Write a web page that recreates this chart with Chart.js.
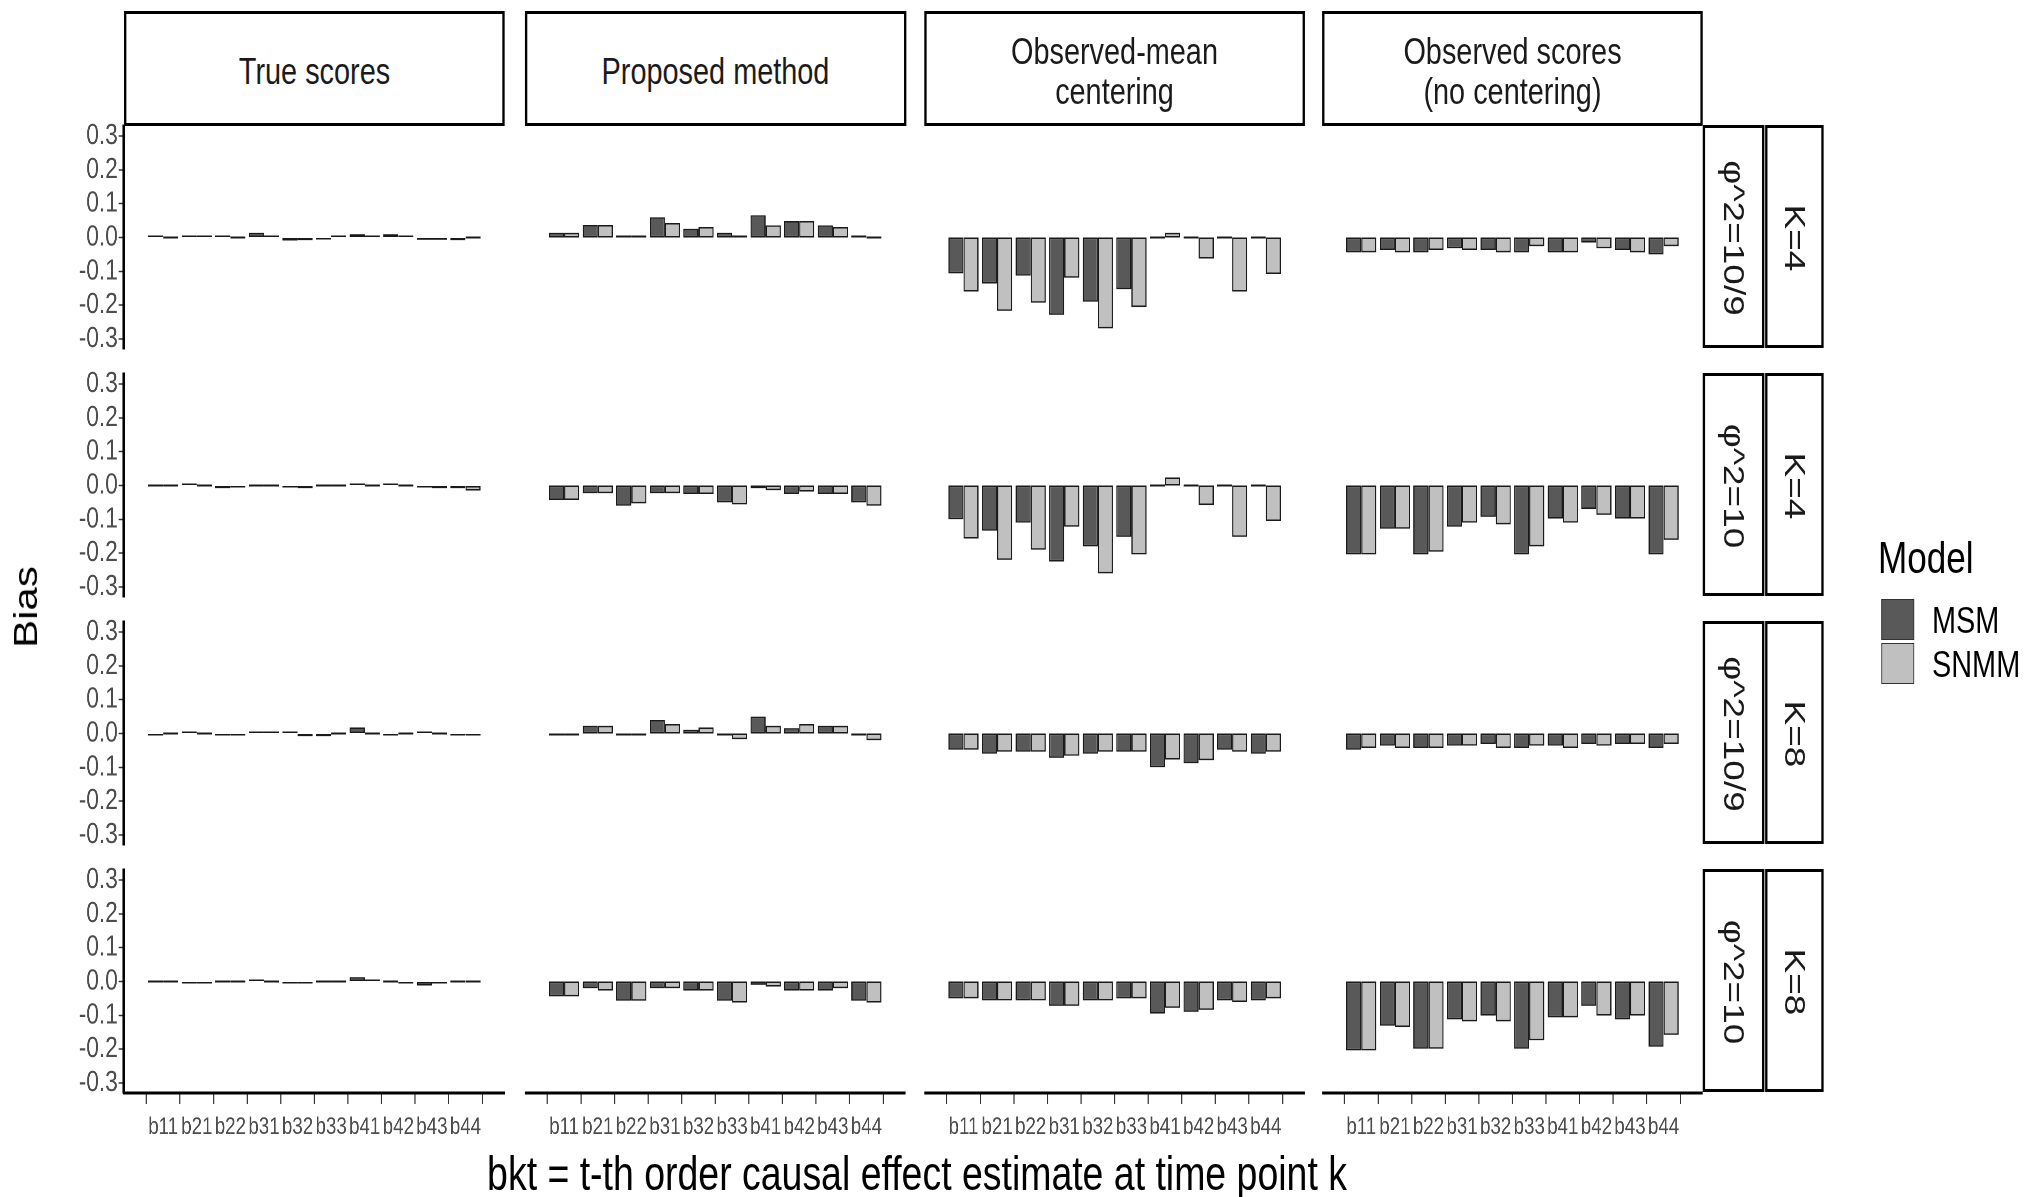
<!DOCTYPE html>
<html><head><meta charset="utf-8">
<script src="https://cdn.jsdelivr.net/npm/chart.js@4.4.1/dist/chart.umd.min.js"></script>
<style>
html,body{margin:0;padding:0;background:#fff;overflow:hidden;width:2024px;height:1197px;}
#fig{position:absolute;left:0;top:0;width:2595px;height:1197px;transform:scaleX(0.78);transform-origin:0 0;font-family:"Liberation Sans",Arial,sans-serif;}
.box{position:absolute;box-sizing:border-box;border:3px solid #000;background:#fff;}
.txt{position:absolute;white-space:nowrap;line-height:1;color:#1a1a1a;}
.pw{position:absolute;}
.key{position:absolute;box-sizing:border-box;border:1.5px solid #333;}
</style></head><body><div id="fig"></div>
<script>
// ---------------- DATA ----------------
const categories = ["b11","b21","b22","b31","b32","b33","b41","b42","b43","b44"];
const methodLabels = ["True scores","Proposed method","Observed-mean<br>centering","Observed scores<br>(no centering)"];
const phiLabels = ["φ^2=10/9","φ^2=10","φ^2=10/9","φ^2=10"];
const kLabels = ["K=4","K=4","K=8","K=8"];
const seriesNames = ["MSM","SNMM"];
const yTickValues = [-0.3,-0.2,-0.1,0,0.1,0.2,0.3];
const yTickLabels = ["-0.3","-0.2","-0.1","0.0","0.1","0.2","0.3"];
const xTitle = "bkt = t-th order causal effect estimate at time point k";
const yTitle = "Bias";
const legendTitle = "Model";

// Row 1: φ^2=10/9, K=4
const msmR1True = [0.001, 0.005, 0.001, 0.014, -0.009, -0.002, 0.010, 0.010, -0.007, -0.008];
const snmmR1True = [0.000, 0.001, 0.000, 0.005, -0.008, 0.004, 0.001, 0.005, -0.007, 0.000];
const msmR1Prop = [0.014, 0.037, 0.003, 0.060, 0.026, 0.014, 0.066, 0.049, 0.036, 0.005];
const snmmR1Prop = [0.014, 0.037, 0.002, 0.043, 0.031, 0.004, 0.036, 0.049, 0.031, 0.000];
const msmR1Mean = [-0.106, -0.136, -0.113, -0.229, -0.190, -0.153, 0.000, 0.000, 0.000, 0.000];
const snmmR1Mean = [-0.160, -0.217, -0.193, -0.119, -0.269, -0.206, 0.014, -0.062, -0.160, -0.108];
const msmR1Obs = [-0.044, -0.037, -0.044, -0.032, -0.037, -0.044, -0.044, -0.015, -0.037, -0.050];
const snmmR1Obs = [-0.044, -0.044, -0.037, -0.037, -0.044, -0.026, -0.044, -0.032, -0.044, -0.026];
// Row 2: φ^2=10, K=4
const msmR2True = [0.000, 0.006, -0.008, 0.000, -0.002, 0.000, 0.006, 0.006, -0.002, -0.008];
const snmmR2True = [0.000, 0.000, -0.002, 0.000, -0.008, 0.000, 0.000, 0.000, -0.008, -0.015];
const msmR2Prop = [-0.043, -0.023, -0.060, -0.023, -0.025, -0.050, -0.008, -0.025, -0.025, -0.050];
const snmmR2Prop = [-0.043, -0.023, -0.053, -0.023, -0.025, -0.056, -0.014, -0.018, -0.025, -0.060];
const msmR2Mean = [-0.100, -0.134, -0.110, -0.225, -0.180, -0.152, 0.000, 0.000, 0.000, 0.000];
const snmmR2Mean = [-0.157, -0.220, -0.190, -0.122, -0.260, -0.204, 0.024, -0.058, -0.152, -0.105];
const msmR2Obs = [-0.204, -0.128, -0.204, -0.122, -0.093, -0.204, -0.098, -0.070, -0.098, -0.204];
const snmmR2Obs = [-0.204, -0.128, -0.196, -0.110, -0.115, -0.180, -0.110, -0.087, -0.098, -0.161];
// Row 3: φ^2=10/9, K=8
const msmR3True = [-0.006, 0.005, -0.006, 0.004, 0.004, -0.008, 0.018, -0.006, 0.005, -0.006];
const snmmR3True = [0.000, 0.000, -0.006, 0.004, -0.008, 0.000, 0.000, 0.000, 0.000, -0.006];
const msmR3Prop = [-0.001, 0.023, -0.006, 0.040, 0.011, -0.002, 0.050, 0.016, 0.023, -0.002];
const snmmR3Prop = [-0.001, 0.023, -0.006, 0.028, 0.018, -0.017, 0.023, 0.028, 0.023, -0.020];
const msmR3Mean = [-0.048, -0.060, -0.054, -0.072, -0.060, -0.054, -0.100, -0.088, -0.048, -0.060];
const snmmR3Mean = [-0.048, -0.054, -0.054, -0.066, -0.054, -0.054, -0.077, -0.079, -0.054, -0.054];
const msmR3Obs = [-0.048, -0.036, -0.043, -0.036, -0.031, -0.043, -0.036, -0.031, -0.031, -0.043];
const snmmR3Obs = [-0.043, -0.043, -0.043, -0.036, -0.043, -0.036, -0.043, -0.036, -0.031, -0.031];
// Row 4: φ^2=10, K=8
const msmR4True = [0.000, -0.006, 0.000, 0.006, -0.006, 0.000, 0.013, 0.000, -0.012, 0.000];
const snmmR4True = [0.000, -0.006, 0.000, 0.000, -0.006, 0.000, 0.005, -0.006, -0.006, 0.000];
const msmR4Prop = [-0.044, -0.020, -0.057, -0.020, -0.027, -0.057, -0.010, -0.027, -0.027, -0.057];
const snmmR4Prop = [-0.044, -0.027, -0.057, -0.020, -0.027, -0.062, -0.015, -0.027, -0.020, -0.062];
const msmR4Mean = [-0.050, -0.056, -0.056, -0.072, -0.056, -0.050, -0.095, -0.090, -0.056, -0.056];
const snmmR4Mean = [-0.050, -0.056, -0.056, -0.072, -0.056, -0.050, -0.078, -0.084, -0.061, -0.050];
const msmR4Obs = [-0.204, -0.131, -0.199, -0.112, -0.101, -0.199, -0.106, -0.072, -0.112, -0.193];
const snmmR4Obs = [-0.204, -0.135, -0.199, -0.118, -0.118, -0.174, -0.106, -0.101, -0.101, -0.158];

const msmGrid = [
  [msmR1True, msmR1Prop, msmR1Mean, msmR1Obs],
  [msmR2True, msmR2Prop, msmR2Mean, msmR2Obs],
  [msmR3True, msmR3Prop, msmR3Mean, msmR3Obs],
  [msmR4True, msmR4Prop, msmR4Mean, msmR4Obs]];
const snmmGrid = [
  [snmmR1True, snmmR1Prop, snmmR1Mean, snmmR1Obs],
  [snmmR2True, snmmR2Prop, snmmR2Mean, snmmR2Obs],
  [snmmR3True, snmmR3Prop, snmmR3Mean, snmmR3Obs],
  [snmmR4True, snmmR4Prop, snmmR4Mean, snmmR4Obs]];

// ---------------- LAYOUT / STYLE ----------------
const SX = 0.78;
const ux = v => v / SX;
const colLeft = [124, 525, 924, 1322], PW = 381;
const rowTop = [126, 374, 622, 870], PH = 223;
const XAXIS_H = 75;
const PAD = 20;
const FONT = '"Liberation Sans", Arial, sans-serif';
const colors = ['#595959', '#c0c0c0'];
const fig = document.getElementById('fig');

// pick a condensed face for x tick labels if one is installed
const mctx = document.createElement('canvas').getContext('2d');
mctx.font = '26px "Liberation Sans"';
const wReg = mctx.measureText('b11 b21 b22').width;
mctx.font = '26px "Liberation Sans Narrow", "Liberation Sans"';
const wNar = mctx.measureText('b11 b21 b22').width;
const xTickFont = (wNar < wReg * 0.92) ? {family: '"Liberation Sans Narrow", "Liberation Sans"', size: 27}
                                        : {family: FONT, size: 24};

function el(cls, css, html) {
  const d = document.createElement('div');
  d.className = cls;
  Object.assign(d.style, css);
  if (html !== undefined) d.innerHTML = html;
  fig.appendChild(d);
  return d;
}
function centerText(html, cx, cy, size, extra) {
  return el('txt', Object.assign({left: cx + 'px', top: cy + 'px', fontSize: size + 'px',
    transform: 'translate(-50%,-50%)', textAlign: 'center'}, extra || {}), html);
}

// column strips
for (let c = 0; c < 4; c++) {
  el('box', {left: ux(colLeft[c]) + 'px', top: '11px', width: ux(PW) + 'px', height: '115px'});
  centerText(methodLabels[c], ux(colLeft[c] + PW / 2), 72, 37, {lineHeight: '40px'});
}
// row strips
for (let r = 0; r < 4; r++) {
  el('box', {left: ux(1703) + 'px', top: (rowTop[r] - 1) + 'px', width: ux(61) + 'px', height: PH + 'px'});
  el('box', {left: ux(1765) + 'px', top: (rowTop[r] - 1) + 'px', width: ux(59) + 'px', height: PH + 'px'});
  centerText(phiLabels[r], ux(1734), rowTop[r] + PH / 2, 37, {transform: 'translate(-50%,-50%) rotate(90deg)'});
  centerText(kLabels[r], ux(1794.5), rowTop[r] + PH / 2, 37, {transform: 'translate(-50%,-50%) rotate(90deg)'});
}
// axis titles
centerText(xTitle, ux(917), 1174, 48, {color: '#000'});
centerText(yTitle, ux(26), 607, 42, {color: '#000', transform: 'translate(-50%,-50%) rotate(-90deg)'});
// legend
el('txt', {left: ux(1878) + 'px', top: '557px', fontSize: '45px', transform: 'translateY(-50%)', color: '#000'}, legendTitle);
const keyTops = [599, 643];
for (let s = 0; s < 2; s++) {
  el('key', {left: ux(1881) + 'px', top: keyTops[s] + 'px', width: ux(33) + 'px', height: '41px', background: colors[s]});
  el('txt', {left: ux(1932) + 'px', top: (keyTops[s] + 21) + 'px', fontSize: '37px', transform: 'translateY(-50%)', color: '#000'}, seriesNames[s]);
}

// panels
for (let r = 0; r < 4; r++) {
  for (let c = 0; c < 4; c++) {
    const isLeft = c === 0, isBottom = r === 3;
    const left = isLeft ? 0 : ux(colLeft[c]);
    const width = isLeft ? ux(colLeft[0] + PW) : ux(PW);
    const padBottom = isBottom ? 0 : PAD;
    const height = PAD + PH + padBottom + (isBottom ? XAXIS_H : 0);
    const wrap = el('pw', {left: left + 'px', top: (rowTop[r] - PAD) + 'px', width: width + 'px', height: height + 'px'});
    const cv = document.createElement('canvas');
    cv.width = Math.round(width); cv.height = height;
    wrap.appendChild(cv);
    const mk = (vals, s) => ({
      label: seriesNames[s],
      data: vals.map((v, i) => ({x: i + 1, y: v})),
      backgroundColor: colors[s],
      borderColor: '#1a1a1a',
      borderWidth: 1.6,
      borderSkipped: false,
      minBarLength: 2,
      categoryPercentage: 0.9,
      barPercentage: 1.0
    });
    new Chart(cv, {
      type: 'bar',
      data: {datasets: [mk(msmGrid[r][c], 0), mk(snmmGrid[r][c], 1)]},
      options: {
        responsive: false, animation: false, devicePixelRatio: 2,
        layout: {padding: {top: PAD, bottom: padBottom, left: 0, right: 0}},
        plugins: {legend: {display: false}, tooltip: {enabled: false}},
        scales: {
          x: {
            type: 'linear', min: 0.4, max: 10.6, display: isBottom,
            grid: {display: true, drawOnChartArea: false, drawTicks: true, tickLength: 11, tickColor: '#333', tickWidth: 1.5},
            border: {display: true, color: '#000', width: 3},
            ticks: {font: xTickFont, color: '#4d4d4d', padding: 9, autoSkip: false, maxRotation: 0,
              callback: v => categories[v - 1]},
            afterBuildTicks: s => { s.ticks = categories.map((_, i) => ({value: i + 1})); },
            afterFit: s => { if (isBottom) s.height = XAXIS_H; s.paddingLeft = 0; s.paddingRight = 0; }
          },
          y: {
            type: 'linear', min: -0.33, max: 0.33, display: isLeft,
            grid: {display: true, drawOnChartArea: false, drawTicks: true, tickLength: 7, tickColor: '#333', tickWidth: 1.5},
            border: {display: true, color: '#000', width: 3.5},
            ticks: {font: {family: FONT, size: 29}, color: '#4d4d4d', padding: 1, autoSkip: false,
              callback: (v, i) => yTickLabels[i]},
            afterBuildTicks: s => { s.ticks = yTickValues.map(v => ({value: v})); },
            afterFit: s => { if (isLeft) s.width = ux(colLeft[0]); s.paddingTop = 0; s.paddingBottom = 0; }
          }
        }
      }
    });
  }
}
</script>
</body></html>
